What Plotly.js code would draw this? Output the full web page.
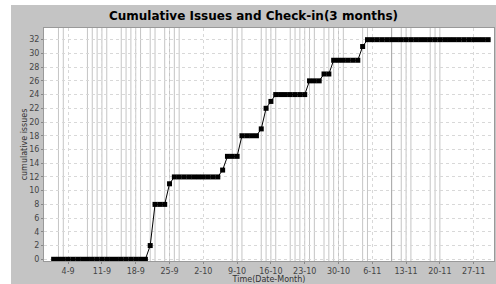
<!DOCTYPE html>
<html>
<head>
<meta charset="utf-8">
<script src="https://cdn.plot.ly/plotly-3.0.1.min.js"></script>
<style>
  html, body { margin: 0; padding: 0; background: #ffffff; }
  #chart { position: absolute; left: 11px; top: 5px; width: 485px; height: 279px; }
</style>
</head>
<body>
<div id="chart"></div>
<script>
// Daily cumulative issue counts, 1 Sep – 30 Nov
const dates = [
  "2023-09-01","2023-09-02","2023-09-03","2023-09-04","2023-09-05","2023-09-06","2023-09-07","2023-09-08","2023-09-09","2023-09-10",
  "2023-09-11","2023-09-12","2023-09-13","2023-09-14","2023-09-15","2023-09-16","2023-09-17","2023-09-18","2023-09-19","2023-09-20",
  "2023-09-21","2023-09-22","2023-09-23","2023-09-24","2023-09-25","2023-09-26","2023-09-27","2023-09-28","2023-09-29","2023-09-30",
  "2023-10-01","2023-10-02","2023-10-03","2023-10-04","2023-10-05","2023-10-06","2023-10-07","2023-10-08","2023-10-09","2023-10-10",
  "2023-10-11","2023-10-12","2023-10-13","2023-10-14","2023-10-15","2023-10-16","2023-10-17","2023-10-18","2023-10-19","2023-10-20",
  "2023-10-21","2023-10-22","2023-10-23","2023-10-24","2023-10-25","2023-10-26","2023-10-27","2023-10-28","2023-10-29","2023-10-30",
  "2023-10-31","2023-11-01","2023-11-02","2023-11-03","2023-11-04","2023-11-05","2023-11-06","2023-11-07","2023-11-08","2023-11-09",
  "2023-11-10","2023-11-11","2023-11-12","2023-11-13","2023-11-14","2023-11-15","2023-11-16","2023-11-17","2023-11-18","2023-11-19",
  "2023-11-20","2023-11-21","2023-11-22","2023-11-23","2023-11-24","2023-11-25","2023-11-26","2023-11-27","2023-11-28","2023-11-29",
  "2023-11-30"
];
const cumulativeIssues = [
  0,0,0,0,0,0,0,0,0,0,
  0,0,0,0,0,0,0,0,0,0,
  2,8,8,8,11,12,12,12,12,12,
  12,12,12,12,12,13,15,15,15,18,
  18,18,18,19,22,23,24,24,24,24,
  24,24,24,26,26,26,27,27,29,29,
  29,29,29,29,31,32,32,32,32,32,
  32,32,32,32,32,32,32,32,32,32,
  32,32,32,32,32,32,32,32,32,32,
  32
];
// Check-in dates (vertical markers)
const checkIns = [
  "2023-09-02","2023-09-03","2023-09-08","2023-09-09","2023-09-10","2023-09-11","2023-09-12",
  "2023-09-15","2023-09-16","2023-09-17","2023-09-18","2023-09-19","2023-09-21","2023-09-22",
  "2023-09-24","2023-09-25","2023-09-26","2023-09-27",
  "2023-10-08","2023-10-09","2023-10-10","2023-10-14","2023-10-15","2023-10-16","2023-10-17",
  "2023-10-20","2023-10-21","2023-10-22","2023-10-23","2023-10-24","2023-10-25",
  "2023-10-27","2023-10-28","2023-10-29","2023-10-30","2023-10-31",
  "2023-11-04","2023-11-05","2023-11-10","2023-11-10","2023-11-12","2023-11-13","2023-11-14",
  "2023-11-18","2023-11-19","2023-11-20"
];
const xTickVals = ["2023-09-04","2023-09-11","2023-09-18","2023-09-25","2023-10-02","2023-10-09","2023-10-16","2023-10-23","2023-10-30","2023-11-06","2023-11-13","2023-11-20","2023-11-27"];
const xTickText = ["4-9","11-9","18-9","25-9","2-10","9-10","16-10","23-10","30-10","6-11","13-11","20-11","27-11"];
const yTickVals = [0,2,4,6,8,10,12,14,16,18,20,22,24,26,28,30,32];

const shapes = checkIns.map(d => ({
  type: 'line', xref: 'x', yref: 'paper',
  x0: d, x1: d, y0: 0, y1: 1,
  line: { color: 'rgba(140,140,140,0.5)', width: 1 },
  layer: 'below'
}));

const trace = {
  x: dates, y: cumulativeIssues,
  type: 'scatter', mode: 'lines+markers',
  line: { color: '#000000', width: 1 },
  marker: { symbol: 'square', size: 5, color: '#000000' },
  hoverinfo: 'skip'
};

const tickFont = { family: 'DejaVu Sans', size: 8, color: '#444444' };

const layout = {
  width: 485, height: 279,
  paper_bgcolor: '#c4c4c4',
  plot_bgcolor: '#ffffff',
  margin: { l: 33, r: 2, t: 23, b: 23 },
  showlegend: false,
  title: {
    text: '<b>Cumulative Issues and Check-in(3 months)</b>',
    font: { family: 'DejaVu Sans', size: 12, color: '#000000' },
    x: 0.5, xanchor: 'center', y: 1, yref: 'paper', yanchor: 'bottom', pad: { b: 8 }
  },
  xaxis: {
    type: 'date',
    range: ['2023-08-30 00:00', '2023-12-01 05:00'],
    tickmode: 'array', tickvals: xTickVals, ticktext: xTickText,
    tickfont: tickFont,
    ticks: 'outside', ticklen: 2, tickcolor: '#888888',
    showgrid: true, gridcolor: '#d8d8d8', griddash: 'dot', gridwidth: 1,
    zeroline: false, showline: true, linecolor: '#999999', mirror: true,
    title: { text: 'Time(Date-Month)', font: { family: 'DejaVu Sans', size: 8, color: '#333333' }, standoff: 0 }
  },
  yaxis: {
    range: [-0.25, 33.7],
    tickmode: 'array', tickvals: yTickVals,
    tickfont: tickFont,
    ticks: 'outside', ticklen: 2, tickcolor: '#888888',
    showgrid: true, gridcolor: '#d8d8d8', griddash: 'dot', gridwidth: 1,
    zeroline: false, showline: true, linecolor: '#999999', mirror: true,
    title: { text: 'cumulative issues', font: { family: 'DejaVu Sans', size: 8, color: '#333333' }, standoff: 0 }
  },
  shapes: shapes
};

Plotly.newPlot('chart', [trace], layout, { displayModeBar: false, staticPlot: true });
</script>
</body>
</html>
